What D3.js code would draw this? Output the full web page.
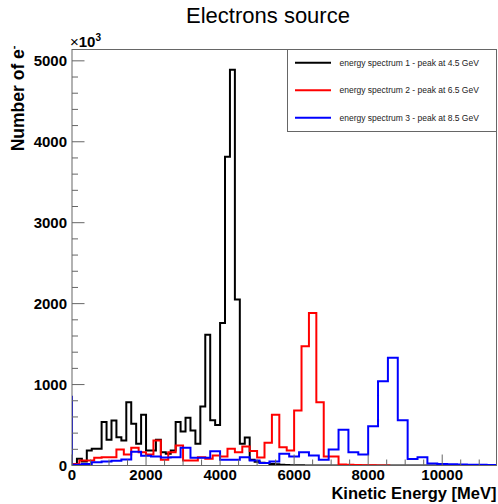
<!DOCTYPE html>
<html>
<head>
<meta charset="utf-8">
<script src="https://cdn.jsdelivr.net/npm/d3@7/dist/d3.min.js"></script>
<style>
  html, body { margin: 0; padding: 0; background: #fff; }
  svg { display: block; font-family: "Liberation Sans", Arial, Helvetica, sans-serif; }
</style>
</head>
<body>
<svg id="chart" width="498" height="504"></svg>
<script>
// Three electron energy spectra, counts in units of 10^3 per bin.
// Each histogram starts one bin below 0 MeV (clipped by the frame).
const seriesNames = [
  "energy spectrum 1 - peak at 4.5 GeV",
  "energy spectrum 2 - peak at 6.5 GeV",
  "energy spectrum 3 - peak at 8.5 GeV"
];
const seriesColors = ["#000000", "#ff0000", "#0000ff"];
const binWidths = [400 / 3, 200, 800 / 3];   // MeV per bin

const spectrum1 = [
  0, 5, 83, 50, 186, 206, 206, 536, 318, 557, 350, 309, 783, 516, 268, 627,
  186, 186, 318, 165, 145, 186, 536, 420, 590, 433, 268, 730, 1617, 560, 500,
  1761, 3815, 4890, 2050, 270, 345, 70, 45, 35, 30, 20, 15, 10, 5, 3, 2, 2,
  1, 1, 1, 0, 0, 0, 0, 0, 0, 0, 0, 0, 0, 0, 0, 0, 0, 0, 0, 0, 0, 0, 0, 0,
  0, 0, 0, 0, 0, 0, 0, 0, 0, 0, 0, 0, 0, 0, 0
];
const spectrum2 = [
  700, 20, 62, 62, 95, 103, 103, 198, 136, 219, 165, 136, 309, 70, 165, 247,
  62, 62, 103, 83, 124, 110, 206, 165, 235, 180, 100, 281, 627, 227, 186,
  681, 1473, 1885, 783, 111, 111, 12, 8, 5, 3, 2, 1, 0
];
const spectrum3 = [
  850, 8, 20, 40, 50, 60, 74, 170, 120, 110, 100, 103, 219, 95, 95, 177, 70,
  70, 103, 62, 30, 50, 145, 111, 165, 124, 70, 198, 442, 165, 136, 485, 1040,
  1330, 560, 80, 103, 25, 20, 15, 12, 10, 8, 5, 5
];
const spectra = [spectrum1, spectrum2, spectrum3];

const xTicks = [0, 2000, 4000, 6000, 8000, 10000];
const yTicks = [0, 1000, 2000, 3000, 4000, 5000];

const title = "Electrons source";
const xTitle = "Kinetic Energy [MeV]";
const yTitle = "Number of e";

// ---- layout ----
const frame = { left: 72, right: 496.5, top: 49.5, bottom: 465.5 };
const svg = d3.select("#chart");

const x = d3.scaleLinear().domain([0, 11466.67]).range([frame.left, frame.right]);
const y = d3.scaleLinear().domain([0, 5140]).range([frame.bottom, frame.top]);

svg.append("defs").append("clipPath").attr("id", "frameClip")
  .append("rect")
  .attr("x", frame.left).attr("y", frame.top - 2)
  .attr("width", frame.right - frame.left)
  .attr("height", frame.bottom - frame.top + 2);

// ---- histograms (step outlines) ----
const stepLine = d3.line()
  .x(d => x(d[0]))
  .y(d => y(d[1]))
  .curve(d3.curveStepAfter);

const histG = svg.append("g").attr("clip-path", "url(#frameClip)");
spectra.forEach((counts, i) => {
  const w = binWidths[i];
  const start = -w;
  const pts = [[start, 0]];
  counts.forEach((v, k) => pts.push([start + k * w, v]));
  pts.push([start + counts.length * w, 0]);
  histG.append("path")
    .attr("d", stepLine(pts))
    .attr("fill", "none")
    .attr("stroke", seriesColors[i])
    .attr("stroke-width", 2)
    .attr("stroke-linejoin", "miter");
});

// ---- frame ----
svg.append("rect")
  .attr("x", frame.left).attr("y", frame.top)
  .attr("width", frame.right - frame.left)
  .attr("height", frame.bottom - frame.top)
  .attr("fill", "none").attr("stroke", "#666").attr("stroke-width", 1);

// ---- x axis ----
const xAxisG = svg.append("g");
d3.range(0, 11001, 500).forEach(v => {
  const major = v % 2000 === 0;
  xAxisG.append("line")
    .attr("x1", x(v)).attr("x2", x(v))
    .attr("y1", frame.bottom).attr("y2", frame.bottom - (major ? 11 : 6))
    .attr("stroke", "#666").attr("stroke-width", 1);
});
xAxisG.selectAll("text.xt").data(xTicks).join("text")
  .attr("class", "xt")
  .attr("x", d => x(d)).attr("y", 480)
  .attr("text-anchor", "middle")
  .attr("font-size", 15).attr("font-weight", "bold")
  .text(d => d);
xAxisG.append("text")
  .attr("x", frame.right).attr("y", 498.5)
  .attr("text-anchor", "end")
  .attr("font-size", 16.5).attr("font-weight", "bold")
  .text(xTitle);

// ---- y axis ----
const yAxisG = svg.append("g");
d3.range(0, 5001, 200).forEach(v => {
  const major = v % 1000 === 0;
  yAxisG.append("line")
    .attr("x1", frame.left).attr("x2", frame.left + (major ? 12.5 : 6))
    .attr("y1", y(v)).attr("y2", y(v))
    .attr("stroke", "#666").attr("stroke-width", 1);
});
yAxisG.selectAll("text.yt").data(yTicks).join("text")
  .attr("class", "yt")
  .attr("x", 67).attr("y", d => y(d) + 5.5)
  .attr("text-anchor", "end")
  .attr("font-size", 15).attr("font-weight", "bold")
  .text(d => d);

// exponent marker above the y axis
const expText = yAxisG.append("text")
  .attr("x", 70).attr("y", 46.5)
  .attr("font-size", 15).attr("font-weight", "bold");
expText.append("tspan").attr("font-weight", "normal").text("\u00d7");
expText.append("tspan").text("10");
expText.append("tspan").attr("font-size", 10).attr("dy", -6).text("3");

// y title, rotated, aligned to the top of the axis
const yTitleText = yAxisG.append("text")
  .attr("transform", `translate(23.5,${frame.top - 4}) rotate(-90)`)
  .attr("text-anchor", "end")
  .attr("font-size", 17.5).attr("font-weight", "bold");
yTitleText.append("tspan").text(yTitle);
yTitleText.append("tspan").attr("font-size", 11).attr("dy", -7).text("-");

// ---- title ----
svg.append("text")
  .attr("x", 268).attr("y", 23)
  .attr("text-anchor", "middle")
  .attr("font-size", 22)
  .text(title);

// ---- legend ----
const legend = { x: 287.5, y: 49.5, w: 209, h: 82 };
const legG = svg.append("g");
legG.append("rect")
  .attr("x", legend.x).attr("y", legend.y)
  .attr("width", legend.w).attr("height", legend.h)
  .attr("fill", "#fff").attr("stroke", "#666").attr("stroke-width", 1);
seriesNames.forEach((name, i) => {
  const ly = 62.7 + i * 27.5;
  legG.append("line")
    .attr("x1", 295).attr("x2", 331)
    .attr("y1", ly).attr("y2", ly)
    .attr("stroke", seriesColors[i]).attr("stroke-width", 2);
  legG.append("text")
    .attr("x", 339.5).attr("y", ly + 3)
    .attr("font-size", 8.5).attr("fill", "#222")
    .text(name);
});
</script>
</body>
</html>
